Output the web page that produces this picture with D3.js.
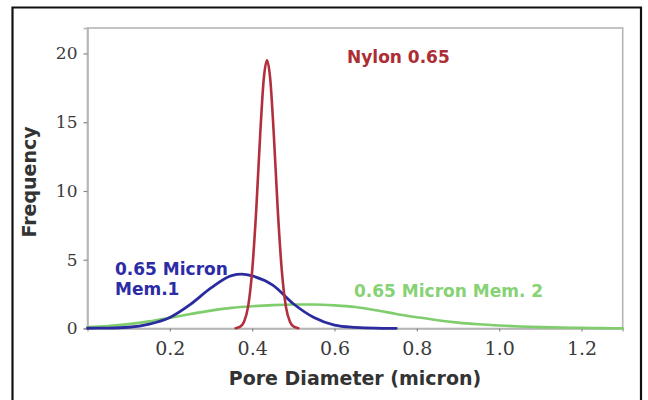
<!DOCTYPE html>
<html><head><meta charset="utf-8">
<script src="https://cdn.jsdelivr.net/npm/d3@7"></script>
<style>html,body{margin:0;padding:0;background:#fff;}svg{display:block;}</style>
</head><body>
<svg id="chart" width="648" height="400"></svg>
<script>
// ---- data ----
const nylonX = [0.360,0.370,0.380,0.390,0.400,0.410,0.420,0.428,0.436,0.444,0.452,0.462,0.472,0.482,0.492,0.502,0.512];
const nylonY = [0.02,0.11,0.47,1.57,4.2,8.7,14.4,18.1,19.5,18.1,14.4,8.7,4.2,1.57,0.47,0.11,0.02];

const mem1X = [0.00,0.05,0.10,0.15,0.20,0.25,0.30,0.35,0.375,0.40,0.45,0.50,0.55,0.60,0.65,0.70,0.75];
const mem1Y = [0.02,0.03,0.09,0.32,0.80,1.75,2.95,3.85,3.95,3.82,3.15,1.80,0.80,0.25,0.08,0.02,0.01];

const mem2X = [0.00,0.05,0.10,0.15,0.20,0.25,0.30,0.35,0.40,0.45,0.50,0.55,0.60,0.65,0.70,0.75,0.80,0.85,0.90,0.95,1.00,1.05,1.10,1.15,1.20,1.25,1.30];
const mem2Y = [0.10,0.18,0.32,0.52,0.78,1.05,1.30,1.50,1.62,1.70,1.74,1.74,1.68,1.56,1.33,1.06,0.82,0.60,0.43,0.31,0.22,0.15,0.10,0.07,0.05,0.03,0.02];

const xTicks = [0.2,0.4,0.6,0.8,1.0,1.2];
const yTicks = [0,5,10,15,20];
const xDomain = [0,1.3];
const yDomain = [0,21.85];

const seriesNames = ["0.65 Micron Mem. 2","0.65 Micron Mem.1","Nylon 0.65"];

// ---- drawing ----
const svg = d3.select("#chart");
const L = 87.5, R = 622.7, T = 28, B = 328.5;
const x = d3.scaleLinear().domain(xDomain).range([L,R]);
const y = d3.scaleLinear().domain(yDomain).range([B,T]);

// outer figure border
svg.append("path")
  .attr("d","M12.5,420 L12.5,7.5 L641,7.5 L641,420")
  .attr("fill","none").attr("stroke","#111").attr("stroke-width",2.2);

// plot frame
svg.append("rect").attr("x",L).attr("y",T).attr("width",R-L).attr("height",B-T)
  .attr("fill","#fff").attr("stroke","#b5b5b5").attr("stroke-width",1.6);

// axes
const gx = svg.append("g").attr("transform",`translate(0,${B})`)
  .call(d3.axisBottom(x).tickValues(xTicks).tickFormat(d3.format(".1f")).tickSize(3).tickPadding(10));
const gy = svg.append("g").attr("transform",`translate(${L},0)`)
  .call(d3.axisLeft(y).tickValues(yTicks).tickSize(4).tickPadding(6));
[gx,gy].forEach(g=>{
  g.select(".domain").attr("stroke","#b5b5b5").attr("stroke-width",1.6);
  g.selectAll(".tick line").attr("stroke","#888").attr("stroke-width",1.2);
});
gx.selectAll(".tick text").attr("font-family","'DejaVu Serif', serif").attr("font-size",19).attr("fill","#3a3a3a");
gy.selectAll(".tick text").attr("font-family","'DejaVu Serif', serif").attr("font-size",17).attr("fill","#3a3a3a");

// curves
const line = d3.line().x(d=>x(d[0])).y(d=>y(d[1])).curve(d3.curveMonotoneX);
const series = [
  {name:seriesNames[0], xs:mem2X, ys:mem2Y, color:"#7fcd6c", w:2.6},
  {name:seriesNames[1], xs:mem1X, ys:mem1Y, color:"#2b2ba0", w:2.8},
  {name:seriesNames[2], xs:nylonX, ys:nylonY, color:"#b22f3e", w:2.6}
];
series.forEach(s=>{
  svg.append("path").datum(s.xs.map((v,i)=>[v,s.ys[i]]))
    .attr("d",line).attr("fill","none").attr("stroke",s.color)
    .attr("stroke-width",s.w).attr("stroke-linejoin","round").attr("stroke-linecap","round");
});

// series labels
const lab = (t,px,py,c)=>svg.append("text").attr("x",px).attr("y",py).text(t)
  .attr("font-family","'DejaVu Sans', sans-serif").attr("font-weight","bold")
  .attr("font-size",17).attr("fill",c);
lab("Nylon 0.65",347,63,"#ad2d35");
lab("0.65 Micron",115,275,"#2c2ca6");
lab("Mem.1",115,295,"#2c2ca6");
lab("0.65 Micron Mem. 2",354,297,"#86d274");

// axis titles
svg.append("text").attr("x",355).attr("y",385).attr("text-anchor","middle")
  .attr("font-family","'DejaVu Sans', sans-serif").attr("font-weight","bold").attr("font-size",19)
  .attr("fill","#333").text("Pore Diameter (micron)");
svg.append("text").attr("transform","translate(36,182) rotate(-90)").attr("text-anchor","middle")
  .attr("font-family","'DejaVu Sans', sans-serif").attr("font-weight","bold").attr("font-size",19)
  .attr("fill","#333").text("Frequency");
</script>
</body></html>
